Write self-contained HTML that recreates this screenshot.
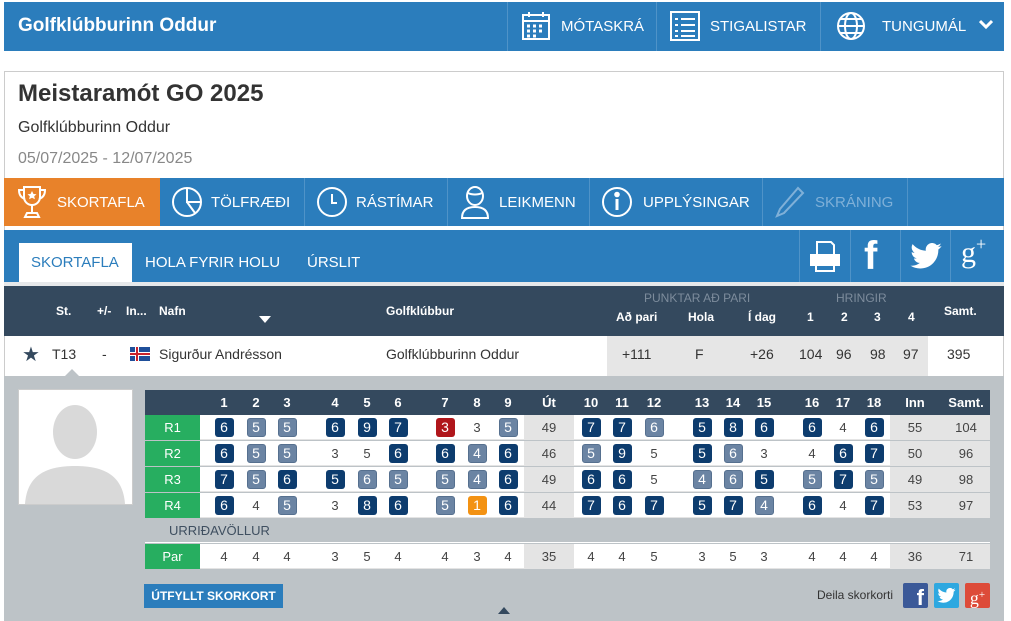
<!DOCTYPE html>
<html><head><meta charset="utf-8"><style>
*{box-sizing:border-box;margin:0;padding:0}
body{width:1011px;height:621px;overflow:hidden;background:#fff;font-family:"Liberation Sans",Arial,sans-serif;position:relative;color:#333}
.a{position:absolute;white-space:nowrap}
.hb{background:#2b7dbc}
.w{color:#fff}
.sep{position:absolute;width:1px;background:#4f93c8}
.c{position:absolute;width:32px;text-align:center;font-size:13px;line-height:25px;color:#444}
.c i{font-style:normal;display:inline-block;width:19px;height:19px;line-height:19px;border-radius:3px;color:#fff;font-size:14px;vertical-align:middle;margin-top:-2px}
.d{background:#0d3c6e}.g{background:#6b84a3;border:1px solid #56708f;line-height:17px!important}.r{background:#b0161b}.o{background:#f39213}
.row{position:absolute;left:145px;width:845px;height:25px;background:#fff;border-bottom:1px solid #e4e4e4}
.row .lab{position:absolute;left:0;top:0;width:55px;height:25px;background:#27ae60;color:#fff;font-size:13px;line-height:25px;text-align:center}
.gc{position:absolute;top:0;height:25px;background:#e4e4e4}
.hd{position:absolute;font-size:13px;font-weight:bold;color:#fff;width:32px;text-align:center;line-height:25px}
.th{position:absolute;font-size:12px;font-weight:bold;color:#fff;white-space:nowrap}
.td{position:absolute;font-size:14px;color:#333;white-space:nowrap;top:346px}
</style></head><body>
<!-- top header -->
<div class="a hb" style="left:4px;top:2px;width:1000px;height:49px"></div>
<div class="a w" style="left:18px;top:15px;font-size:19px;font-weight:bold">Golfklúbburinn Oddur</div>
<div class="sep" style="left:507px;top:2px;height:49px"></div>
<div class="sep" style="left:656px;top:2px;height:49px"></div>
<div class="sep" style="left:820px;top:2px;height:49px"></div>
<svg class="a" style="left:521px;top:11px" width="30" height="30" viewBox="0 0 30 30" fill="none" stroke="#fff" stroke-width="2"><rect x="2" y="4" width="26" height="24"/><line x1="2" y1="10" x2="28" y2="10"/><line x1="8" y1="1" x2="8" y2="6"/><line x1="22" y1="1" x2="22" y2="6"/><g stroke-width="3"><path d="M6 15h3M12 15h3M18 15h3M6 20h3M12 20h3M18 20h3M6 25h3M12 25h3"/></g></svg>
<div class="a w" style="left:561px;top:18px;font-size:15px">MÓTASKRÁ</div>
<svg class="a" style="left:670px;top:11px" width="30" height="30" viewBox="0 0 30 30" fill="none" stroke="#fff" stroke-width="2"><rect x="1" y="1" width="28" height="28"/><path d="M5 8h3M11 8h14M5 14h3M11 14h14M5 20h3M11 20h14M5 25h3M11 25h14"/></svg>
<div class="a w" style="left:710px;top:18px;font-size:15px">STIGALISTAR</div>
<svg class="a" style="left:836px;top:11px" width="30" height="30" viewBox="0 0 30 30" fill="none" stroke="#fff" stroke-width="2"><circle cx="15" cy="15" r="13"/><ellipse cx="15" cy="15" rx="6" ry="13"/><path d="M2 15h26M4 8h22M4 22h22"/></svg>
<div class="a w" style="left:882px;top:18px;font-size:15px">TUNGUMÁL</div>
<svg class="a" style="left:979px;top:19px" width="14" height="12"><path d="M1 2l6 6 6-6" stroke="#fff" stroke-width="3" fill="none"/></svg>

<!-- card -->
<div class="a" style="left:4px;top:71px;width:1000px;height:550px;border:1px solid #ccc;border-bottom:none"></div>
<div class="a" style="left:18px;top:80px;font-size:24px;font-weight:bold;color:#333">Meistaramót GO 2025</div>
<div class="a" style="left:18px;top:119px;font-size:16px;color:#333">Golfklúbburinn Oddur</div>
<div class="a" style="left:18px;top:150px;font-size:16px;color:#888">05/07/2025 - 12/07/2025</div>

<!-- nav -->
<div class="a hb" style="left:4px;top:178px;width:1000px;height:48px"></div>
<div class="a" style="left:4px;top:178px;width:156px;height:48px;background:#e8822a"></div>
<div class="sep" style="left:304px;top:178px;height:48px"></div>
<div class="sep" style="left:447px;top:178px;height:48px"></div>
<div class="sep" style="left:589px;top:178px;height:48px"></div>
<div class="sep" style="left:762px;top:178px;height:48px"></div>
<div class="sep" style="left:907px;top:178px;height:48px"></div>
<svg class="a" style="left:16px;top:185px" width="32" height="34" viewBox="0 0 32 34" fill="none" stroke="#fff" stroke-width="2"><path d="M8 2h16v10a8 8 0 0 1-16 0z"/><path d="M8 5H3c0 6 3 8 6 9M24 5h5c0 6-3 8-6 9M16 20v8M9 32h14l-2-4H11z"/><path d="M16 6l1.5 3 3 .3-2.3 2 .7 3-2.9-1.6-2.9 1.6.7-3-2.3-2 3-.3z" fill="#fff" stroke="none"/></svg>
<div class="a w" style="left:57px;top:194px;font-size:15px">SKORTAFLA</div>
<svg class="a" style="left:171px;top:186px" width="32" height="32" viewBox="0 0 32 32" fill="none" stroke="#fff" stroke-width="2"><circle cx="16" cy="16" r="14"/><path d="M16 2v14h14M16 16l8 11"/></svg>
<div class="a w" style="left:211px;top:194px;font-size:15px">TÖLFRÆÐI</div>
<svg class="a" style="left:316px;top:186px" width="32" height="32" viewBox="0 0 32 32" fill="none" stroke="#fff" stroke-width="2"><circle cx="16" cy="16" r="14"/><path d="M16 8v9h5"/></svg>
<div class="a w" style="left:356px;top:194px;font-size:15px">RÁSTÍMAR</div>
<svg class="a" style="left:459px;top:185px" width="32" height="34" viewBox="0 0 32 34" fill="none" stroke="#fff" stroke-width="2"><ellipse cx="16" cy="11" rx="8" ry="9"/><path d="M9 8c4 2 10 2 14 0M3 33c0-8 5-11 13-11s13 3 13 11z"/></svg>
<div class="a w" style="left:499px;top:194px;font-size:15px">LEIKMENN</div>
<svg class="a" style="left:601px;top:186px" width="32" height="32" viewBox="0 0 32 32" fill="none" stroke="#fff" stroke-width="2"><circle cx="16" cy="16" r="14"/><path d="M16 13v11" stroke-width="3"/><circle cx="16" cy="8.5" r="1.8" fill="#fff"/></svg>
<div class="a w" style="left:643px;top:194px;font-size:15px">UPPLÝSINGAR</div>
<svg class="a" style="left:774px;top:186px" width="32" height="32" viewBox="0 0 32 32" fill="none" stroke="#7fb0d8" stroke-width="2"><path d="M24 2l5 5L10 27l-7 3 3-7z"/></svg>
<div class="a" style="left:815px;top:194px;font-size:15px;color:#7fb0d8">SKRÁNING</div>

<!-- sub tabs -->
<div class="a hb" style="left:4px;top:230px;width:1000px;height:52px"></div>
<div class="a" style="left:19px;top:243px;width:113px;height:39px;background:#fff"></div>
<div class="a" style="left:31px;top:254px;font-size:15px;color:#2b7dbc">SKORTAFLA</div>
<div class="a w" style="left:145px;top:254px;font-size:15px">HOLA FYRIR HOLU</div>
<div class="a w" style="left:307px;top:254px;font-size:15px">ÚRSLIT</div>
<div class="sep" style="left:799px;top:230px;height:52px"></div>
<div class="sep" style="left:850px;top:230px;height:52px"></div>
<div class="sep" style="left:900px;top:230px;height:52px"></div>
<div class="sep" style="left:950px;top:230px;height:52px"></div>
<svg class="a" style="left:809px;top:240px" width="32" height="34" viewBox="0 0 32 34" fill="none" stroke="#fff" stroke-width="2"><path d="M8 2h14l3 3v10H8z"/><rect x="2" y="15" width="28" height="10" fill="#fff"/><path d="M7 25v6h18v-6"/></svg>
<div class="a" style="left:864px;top:234px;font-size:40px;font-weight:bold;color:#fff;font-family:'Liberation Sans'">f</div>
<svg class="a" style="left:910px;top:243px" width="32" height="26" viewBox="0 0 24 20"><path fill="#fff" d="M24 2.3c-.9.4-1.8.7-2.8.8 1-.6 1.8-1.6 2.2-2.7-1 .6-2 1-3.1 1.2A4.9 4.9 0 0 0 11.9 6C7.8 5.8 4.2 3.9 1.7.9c-.4.7-.7 1.6-.7 2.5 0 1.7.9 3.2 2.2 4.1-.8 0-1.6-.2-2.2-.6v.1c0 2.4 1.7 4.4 3.9 4.8-.7.2-1.5.2-2.2.1.6 2 2.4 3.4 4.6 3.4A9.9 9.9 0 0 1 0 17.4 14 14 0 0 0 7.5 19.6c9.1 0 14-7.5 14-14v-.6c1-.7 1.8-1.6 2.5-2.7z"/></svg>
<div class="a w" style="left:961px;top:234px;font-size:30px;font-family:'Liberation Serif',serif">g<span style="font-size:18px;vertical-align:12px">+</span></div>

<!-- table header -->
<div class="a" style="left:4px;top:282px;width:1000px;height:4px;background:#e6e8ea"></div>
<div class="a" style="left:4px;top:286px;width:1000px;height:50px;background:#34495e"></div>
<div class="th" style="left:56px;top:304px">St.</div>
<div class="th" style="left:97px;top:304px">+/-</div>
<div class="th" style="left:126px;top:304px">In...</div>
<div class="th" style="left:159px;top:304px">Nafn</div>
<svg class="a" style="left:259px;top:316px" width="12" height="8"><path d="M0 0h12L6 7z" fill="#fff"/></svg>
<div class="th" style="left:386px;top:304px">Golfklúbbur</div>
<div class="th" style="left:644px;top:291px;color:#7d8c9c;font-weight:normal">PUNKTAR AÐ PARI</div>
<div class="th" style="left:616px;top:310px">Að pari</div>
<div class="th" style="left:688px;top:310px">Hola</div>
<div class="th" style="left:748px;top:310px">Í dag</div>
<div class="th" style="left:836px;top:291px;color:#7d8c9c;font-weight:normal">HRINGIR</div>
<div class="th" style="left:807px;top:310px">1</div>
<div class="th" style="left:841px;top:310px">2</div>
<div class="th" style="left:874px;top:310px">3</div>
<div class="th" style="left:908px;top:310px">4</div>
<div class="th" style="left:944px;top:304px">Samt.</div>

<!-- player row -->
<div class="a" style="left:607px;top:336px;width:321px;height:40px;background:#e6e6e6"></div>
<div class="td" style="left:22px;top:342px;font-size:20px;color:#34495e">★</div>
<div class="td" style="left:52px">T13</div>
<div class="td" style="left:102px">-</div>
<svg class="a" style="left:130px;top:347px" width="20" height="14"><rect width="20" height="14" fill="#1f4f9a"/><rect x="5" width="4" height="14" fill="#fff"/><rect y="5" width="20" height="4" fill="#fff"/><rect x="6" width="2" height="14" fill="#c8232c"/><rect y="6" width="20" height="2" fill="#c8232c"/></svg>
<div class="td" style="left:159px">Sigurður Andrésson</div>
<div class="td" style="left:386px">Golfklúbburinn Oddur</div>
<div class="td" style="left:622px">+111</div>
<div class="td" style="left:695px">F</div>
<div class="td" style="left:750px">+26</div>
<div class="td" style="left:799px">104</div>
<div class="td" style="left:836px">96</div>
<div class="td" style="left:870px">98</div>
<div class="td" style="left:903px">97</div>
<div class="td" style="left:947px">395</div>

<!-- expanded -->
<div class="a" style="left:4px;top:376px;width:1000px;height:245px;background:#bdc3c7"></div>
<svg class="a" style="left:64px;top:369px" width="16" height="8"><path d="M0 8L8 0l8 8z" fill="#bdc3c7"/></svg>
<div class="a" style="left:18px;top:389px;width:115px;height:116px;background:#fff;border:1px solid #ccc"></div>
<svg class="a" style="left:19px;top:390px" width="113" height="114" viewBox="0 0 113 114"><ellipse cx="56" cy="42" rx="22" ry="27" fill="#d9d9d9"/><path d="M6 114c2-28 20-38 50-38s48 10 50 38z" fill="#d9d9d9"/></svg>

<!-- scorecard header -->
<div class="a" style="left:145px;top:390px;width:845px;height:25px;background:#34495e"></div>
<div class="hd" style="left:208px;top:390px">1</div><div class="hd" style="left:240px;top:390px">2</div><div class="hd" style="left:271px;top:390px">3</div><div class="hd" style="left:319px;top:390px">4</div><div class="hd" style="left:351px;top:390px">5</div><div class="hd" style="left:382px;top:390px">6</div><div class="hd" style="left:429px;top:390px">7</div><div class="hd" style="left:461px;top:390px">8</div><div class="hd" style="left:492px;top:390px">9</div><div class="hd" style="left:533px;top:390px">Út</div><div class="hd" style="left:575px;top:390px">10</div><div class="hd" style="left:606px;top:390px">11</div><div class="hd" style="left:638px;top:390px">12</div><div class="hd" style="left:686px;top:390px">13</div><div class="hd" style="left:717px;top:390px">14</div><div class="hd" style="left:748px;top:390px">15</div><div class="hd" style="left:796px;top:390px">16</div><div class="hd" style="left:827px;top:390px">17</div><div class="hd" style="left:858px;top:390px">18</div><div class="hd" style="left:899px;top:390px">Inn</div><div class="hd" style="left:945px;top:390px;width:42px">Samt.</div>

<!-- R1 -->
<div class="row" style="top:415px"><div class="lab">R1</div><div class="gc" style="left:379px;width:50px"></div><div class="gc" style="left:745px;width:100px"></div>
<div class="c" style="left:63px"><i class="d">6</i></div><div class="c" style="left:95px"><i class="g">5</i></div><div class="c" style="left:126px"><i class="g">5</i></div><div class="c" style="left:174px"><i class="d">6</i></div><div class="c" style="left:206px"><i class="d">9</i></div><div class="c" style="left:237px"><i class="d">7</i></div><div class="c" style="left:284px"><i class="r">3</i></div><div class="c" style="left:316px">3</div><div class="c" style="left:347px"><i class="g">5</i></div><div class="c" style="left:388px">49</div><div class="c" style="left:430px"><i class="d">7</i></div><div class="c" style="left:461px"><i class="d">7</i></div><div class="c" style="left:493px"><i class="g">6</i></div><div class="c" style="left:541px"><i class="d">5</i></div><div class="c" style="left:572px"><i class="d">8</i></div><div class="c" style="left:603px"><i class="d">6</i></div><div class="c" style="left:651px"><i class="d">6</i></div><div class="c" style="left:682px">4</div><div class="c" style="left:713px"><i class="d">6</i></div><div class="c" style="left:754px">55</div><div class="c" style="left:805px">104</div></div>
<!-- R2 -->
<div class="row" style="top:441px"><div class="lab">R2</div><div class="gc" style="left:379px;width:50px"></div><div class="gc" style="left:745px;width:100px"></div>
<div class="c" style="left:63px"><i class="d">6</i></div><div class="c" style="left:95px"><i class="g">5</i></div><div class="c" style="left:126px"><i class="g">5</i></div><div class="c" style="left:174px">3</div><div class="c" style="left:206px">5</div><div class="c" style="left:237px"><i class="d">6</i></div><div class="c" style="left:284px"><i class="d">6</i></div><div class="c" style="left:316px"><i class="g">4</i></div><div class="c" style="left:347px"><i class="d">6</i></div><div class="c" style="left:388px">46</div><div class="c" style="left:430px"><i class="g">5</i></div><div class="c" style="left:461px"><i class="d">9</i></div><div class="c" style="left:493px">5</div><div class="c" style="left:541px"><i class="d">5</i></div><div class="c" style="left:572px"><i class="g">6</i></div><div class="c" style="left:603px">3</div><div class="c" style="left:651px">4</div><div class="c" style="left:682px"><i class="d">6</i></div><div class="c" style="left:713px"><i class="d">7</i></div><div class="c" style="left:754px">50</div><div class="c" style="left:805px">96</div></div>
<!-- R3 -->
<div class="row" style="top:467px"><div class="lab">R3</div><div class="gc" style="left:379px;width:50px"></div><div class="gc" style="left:745px;width:100px"></div>
<div class="c" style="left:63px"><i class="d">7</i></div><div class="c" style="left:95px"><i class="g">5</i></div><div class="c" style="left:126px"><i class="d">6</i></div><div class="c" style="left:174px"><i class="d">5</i></div><div class="c" style="left:206px"><i class="g">6</i></div><div class="c" style="left:237px"><i class="g">5</i></div><div class="c" style="left:284px"><i class="g">5</i></div><div class="c" style="left:316px"><i class="g">4</i></div><div class="c" style="left:347px"><i class="d">6</i></div><div class="c" style="left:388px">49</div><div class="c" style="left:430px"><i class="d">6</i></div><div class="c" style="left:461px"><i class="d">6</i></div><div class="c" style="left:493px">5</div><div class="c" style="left:541px"><i class="g">4</i></div><div class="c" style="left:572px"><i class="g">6</i></div><div class="c" style="left:603px"><i class="d">5</i></div><div class="c" style="left:651px"><i class="g">5</i></div><div class="c" style="left:682px"><i class="d">7</i></div><div class="c" style="left:713px"><i class="g">5</i></div><div class="c" style="left:754px">49</div><div class="c" style="left:805px">98</div></div>
<!-- R4 -->
<div class="row" style="top:493px"><div class="lab">R4</div><div class="gc" style="left:379px;width:50px"></div><div class="gc" style="left:745px;width:100px"></div>
<div class="c" style="left:63px"><i class="d">6</i></div><div class="c" style="left:95px">4</div><div class="c" style="left:126px"><i class="g">5</i></div><div class="c" style="left:174px">3</div><div class="c" style="left:206px"><i class="d">8</i></div><div class="c" style="left:237px"><i class="d">6</i></div><div class="c" style="left:284px"><i class="g">5</i></div><div class="c" style="left:316px"><i class="o">1</i></div><div class="c" style="left:347px"><i class="d">6</i></div><div class="c" style="left:388px">44</div><div class="c" style="left:430px"><i class="d">7</i></div><div class="c" style="left:461px"><i class="d">6</i></div><div class="c" style="left:493px"><i class="d">7</i></div><div class="c" style="left:541px"><i class="d">5</i></div><div class="c" style="left:572px"><i class="d">7</i></div><div class="c" style="left:603px"><i class="g">4</i></div><div class="c" style="left:651px"><i class="d">6</i></div><div class="c" style="left:682px">4</div><div class="c" style="left:713px"><i class="d">7</i></div><div class="c" style="left:754px">53</div><div class="c" style="left:805px">97</div></div>
<!-- course -->
<div class="a" style="left:145px;top:518px;width:845px;height:25px;background:#bdc3c7;border-bottom:1px solid #fff"></div>
<div class="a" style="left:169px;top:523px;font-size:13px;color:#3f4f60">URRIÐAVÖLLUR</div>
<!-- Par -->
<div class="row" style="top:544px"><div class="lab">Par</div><div class="gc" style="left:379px;width:50px"></div><div class="gc" style="left:745px;width:100px"></div>
<div class="c" style="left:63px">4</div><div class="c" style="left:95px">4</div><div class="c" style="left:126px">4</div><div class="c" style="left:174px">3</div><div class="c" style="left:206px">5</div><div class="c" style="left:237px">4</div><div class="c" style="left:284px">4</div><div class="c" style="left:316px">3</div><div class="c" style="left:347px">4</div><div class="c" style="left:388px">35</div><div class="c" style="left:430px">4</div><div class="c" style="left:461px">4</div><div class="c" style="left:493px">5</div><div class="c" style="left:541px">3</div><div class="c" style="left:572px">5</div><div class="c" style="left:603px">3</div><div class="c" style="left:651px">4</div><div class="c" style="left:682px">4</div><div class="c" style="left:713px">4</div><div class="c" style="left:754px">36</div><div class="c" style="left:805px">71</div></div>

<!-- footer -->
<div class="a" style="left:144px;top:584px;width:139px;height:24px;background:#2b7dbc;color:#fff;font-size:12px;font-weight:bold;line-height:24px;text-align:center">ÚTFYLLT SKORKORT</div>
<svg class="a" style="left:498px;top:607px" width="12" height="7"><path d="M0 7L6 0l6 7z" fill="#34495e"/></svg>
<div class="a" style="left:817px;top:588px;font-size:12px;color:#333">Deila skorkorti</div>
<div class="a" style="left:903px;top:583px;width:25px;height:25px;background:#3b5998;border-radius:2px;color:#fff;font-weight:bold;font-size:22px;text-align:right;padding-right:4px;line-height:30px">f</div>
<div class="a" style="left:934px;top:583px;width:25px;height:25px;background:#2ea8e0;border-radius:2px"><svg style="position:absolute;left:3px;top:5px" width="19" height="15" viewBox="0 0 24 20"><path fill="#fff" d="M24 2.3c-.9.4-1.8.7-2.8.8 1-.6 1.8-1.6 2.2-2.7-1 .6-2 1-3.1 1.2A4.9 4.9 0 0 0 11.9 6C7.8 5.8 4.2 3.9 1.7.9c-.4.7-.7 1.6-.7 2.5 0 1.7.9 3.2 2.2 4.1-.8 0-1.6-.2-2.2-.6v.1c0 2.4 1.7 4.4 3.9 4.8-.7.2-1.5.2-2.2.1.6 2 2.4 3.4 4.6 3.4A9.9 9.9 0 0 1 0 17.4 14 14 0 0 0 7.5 19.6c9.1 0 14-7.5 14-14v-.6c1-.7 1.8-1.6 2.5-2.7z"/></svg></div>
<div class="a" style="left:965px;top:583px;width:25px;height:25px;background:#dd4b39;border-radius:2px;color:#fff;font-size:18px;text-align:center;line-height:24px;font-family:'Liberation Serif',serif">g<span style="font-size:11px;vertical-align:6px">+</span></div>
</body></html>
